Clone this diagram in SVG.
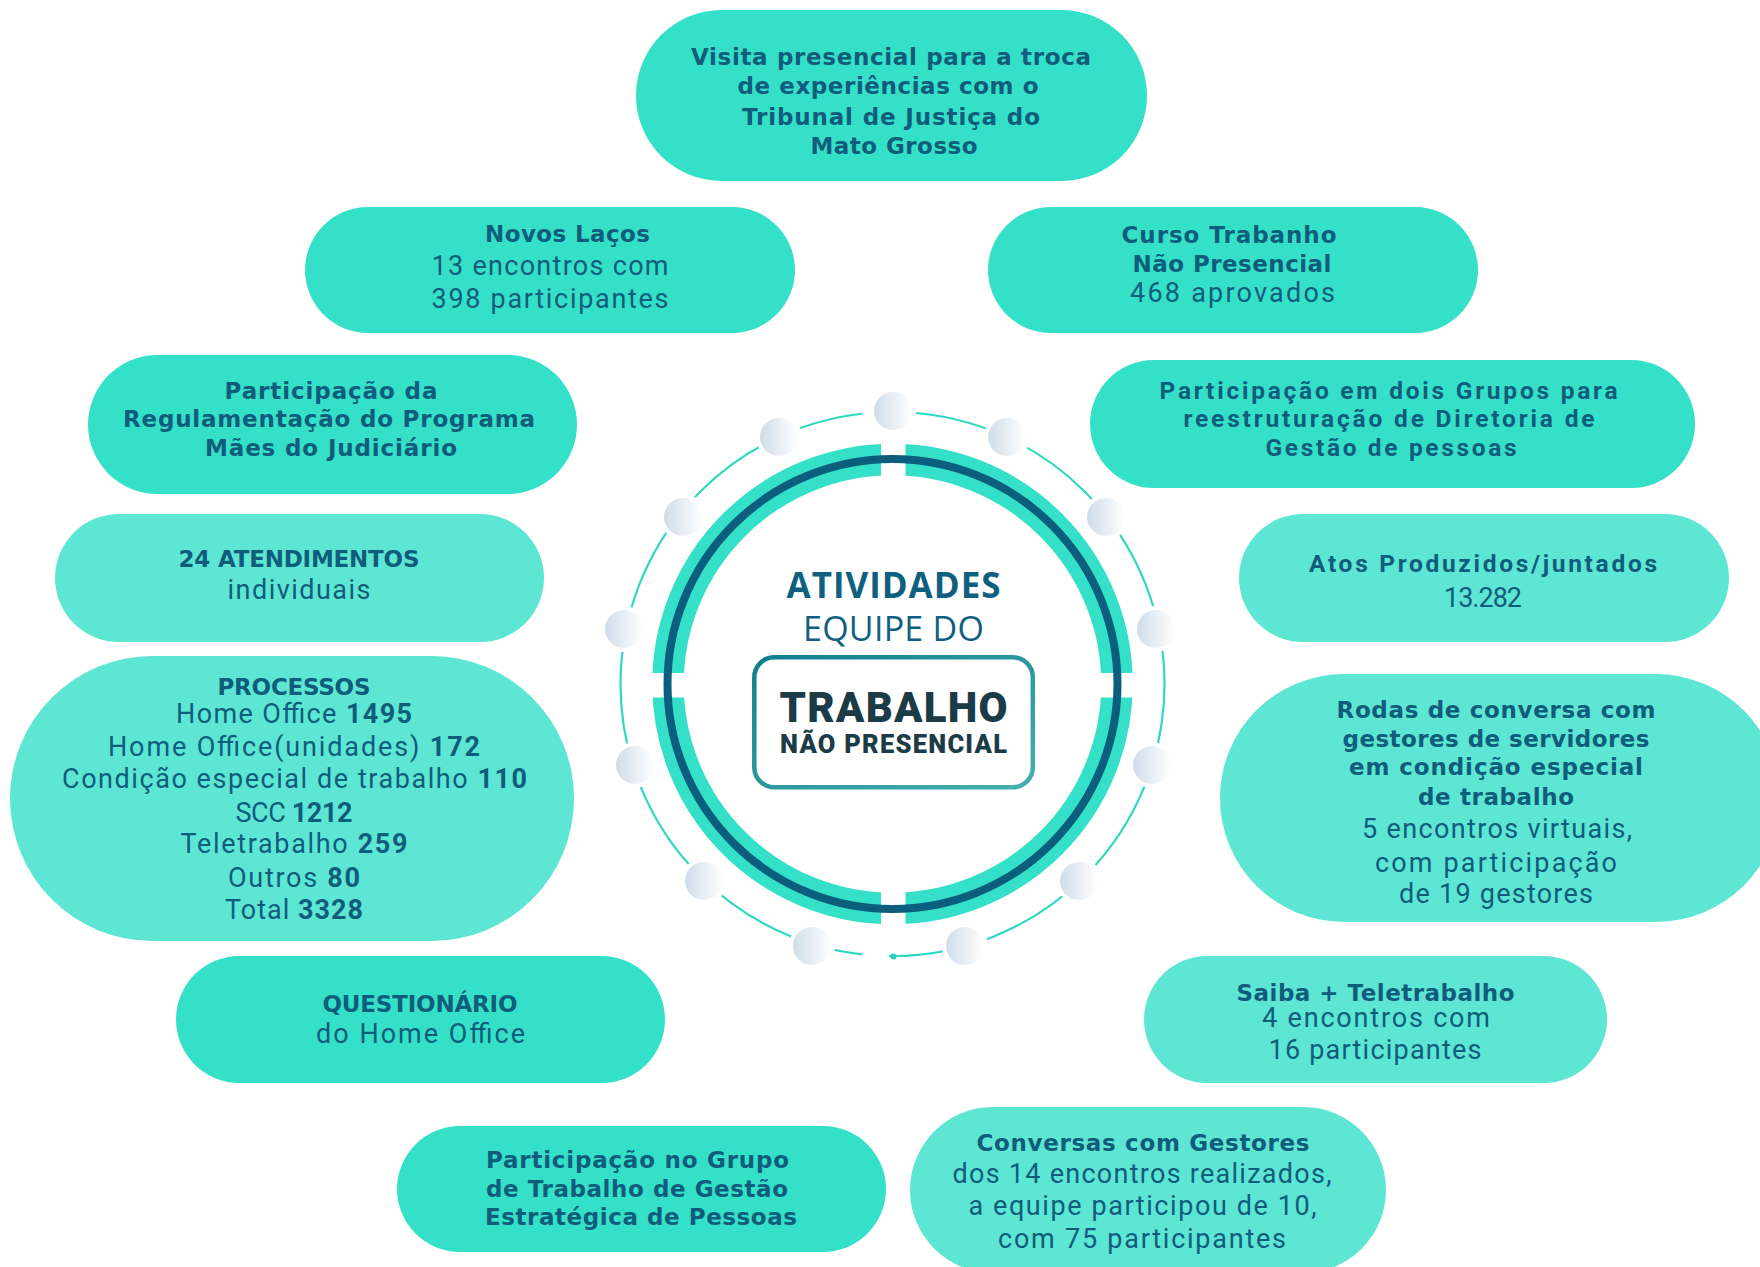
<svg xmlns="http://www.w3.org/2000/svg" width="1760" height="1267" viewBox="0 0 1760 1267">
<style>
.b{fill:#35e0c8}
.l{fill:#5de6d3}
text{fill:#0f5d7a;text-anchor:middle}
.h{font-family:"DejaVu Sans",sans-serif;font-weight:700;font-size:23px}
.r{font-family:Roboto,"Open Sans",sans-serif;font-weight:400;font-size:27px}
.n{font-family:Roboto,"Open Sans",sans-serif;font-weight:700;font-size:24.5px}
.r tspan{font-weight:700}
</style>
<defs>
<linearGradient id="dot" x1="0" y1="0" x2="1" y2="0">
<stop offset="0" stop-color="#cfdde9"/>
<stop offset="1" stop-color="#ffffff"/>
</linearGradient>
<linearGradient id="box" x1="0" y1="0" x2="1" y2="1">
<stop offset="0" stop-color="#0f7f8e"/>
<stop offset="1" stop-color="#45b0ae"/>
</linearGradient>
</defs>

<g id="center">
<circle cx="892.5" cy="684" r="272" fill="none" stroke="#2fd8c0" stroke-width="2.2"/>
<circle cx="892.5" cy="684" r="224.5" fill="none" stroke="#35e0c8" stroke-width="31.5"/>
<rect x="881" y="430" width="24.5" height="510" fill="#fff"/>
<rect x="640" y="673" width="505" height="24.5" fill="#fff"/>
<circle cx="892.5" cy="684" r="225" fill="none" stroke="#0b5e7c" stroke-width="8"/>
<rect x="862" y="403" width="14" height="16" fill="#fff"/>
<rect x="862" y="947" width="27" height="18" fill="#fff"/>
<circle cx="893.5" cy="956.5" r="3" fill="#25d3bb"/>
<g fill="#fff">
<circle cx="893" cy="411" r="23"/><circle cx="779" cy="437" r="23"/><circle cx="1007" cy="437" r="23"/>
<circle cx="683" cy="517" r="23"/><circle cx="1106" cy="517" r="23"/><circle cx="624" cy="629" r="23"/>
<circle cx="1156" cy="629" r="23"/><circle cx="635" cy="765" r="23"/><circle cx="1152" cy="765" r="23"/>
<circle cx="704" cy="881" r="23"/><circle cx="1079" cy="881" r="23"/><circle cx="812" cy="946" r="23"/>
<circle cx="965" cy="946" r="23"/>
</g>
<g fill="url(#dot)">
<circle cx="893" cy="411" r="19"/><circle cx="779" cy="437" r="19"/><circle cx="1007" cy="437" r="19"/>
<circle cx="683" cy="517" r="19"/><circle cx="1106" cy="517" r="19"/><circle cx="624" cy="629" r="19"/>
<circle cx="1156" cy="629" r="19"/><circle cx="635" cy="765" r="19"/><circle cx="1152" cy="765" r="19"/>
<circle cx="704" cy="881" r="19"/><circle cx="1079" cy="881" r="19"/><circle cx="812" cy="946" r="19"/>
<circle cx="965" cy="946" r="19"/>
</g>
<text x="893.5" y="598" font-family="Open Sans, sans-serif" font-weight="700" font-size="35" textLength="214" style="fill:#0f5f80">ATIVIDADES</text>
<text x="893.5" y="641" font-family="Open Sans, sans-serif" font-weight="400" font-size="34" textLength="181" style="fill:#0f5f80">EQUIPE DO</text>
<rect x="754.3" y="657.2" width="278.5" height="130" rx="20" fill="#fff" stroke="url(#box)" stroke-width="4.5"/>
<text x="893.5" y="722" font-family="Roboto, sans-serif" font-weight="900" font-size="42" textLength="228" style="fill:#1b3b47">TRABALHO</text>
<text x="893.5" y="753" font-family="Roboto, sans-serif" font-weight="900" font-size="25.5" textLength="227" style="fill:#1b3b47">NÃO PRESENCIAL</text>
</g>

<g id="connectors"></g>

<g id="n1">
<rect class="b" x="636" y="10" width="511" height="171" rx="85.5"/>
<text class="h" x="891" y="65" font-size="24" textLength="400">Visita presencial para a troca</text>
<text class="h" x="888" y="94" font-size="24" textLength="301">de experiências com o</text>
<text class="h" x="891" y="125" font-size="24" textLength="298">Tribunal de Justiça do</text>
<text class="h" x="894" y="154" font-size="24" textLength="167">Mato Grosso</text>
</g>

<g id="n2">
<rect class="b" x="305" y="207" width="490" height="126" rx="63"/>
<text class="h" x="567.5" y="242" textLength="165">Novos Laços</text>
<text class="r" x="550" y="275" textLength="237">13 encontros com</text>
<text class="r" x="550" y="308" textLength="237">398 participantes</text>
</g>

<g id="n3">
<rect class="b" x="988" y="207" width="490" height="126" rx="63"/>
<text class="h" x="1229" y="243" textLength="215">Curso Trabanho</text>
<text class="h" x="1232" y="272" textLength="199">Não Presencial</text>
<text class="r" x="1232.5" y="302" textLength="205">468 aprovados</text>
</g>

<g id="n4">
<rect class="b" x="88" y="355" width="489" height="139" rx="69.5"/>
<text class="h" x="331" y="399" textLength="213">Participação da</text>
<text class="h" x="329" y="427" textLength="412">Regulamentação do Programa</text>
<text class="h" x="331" y="456" textLength="252">Mães do Judiciário</text>
</g>

<g id="n5">
<rect class="b" x="1090" y="360" width="605" height="128" rx="64"/>
<text class="n" x="1388.5" y="399" textLength="458">Participação em dois Grupos para</text>
<text class="n" x="1389" y="427" textLength="411">reestruturação de Diretoria de</text>
<text class="n" x="1391" y="456" textLength="251">Gestão de pessoas</text>
</g>

<g id="n6">
<rect class="l" x="55" y="514" width="489" height="128" rx="64"/>
<text class="h" x="299" y="567" textLength="241">24 ATENDIMENTOS</text>
<text class="r" x="299" y="599" textLength="143">individuais</text>
</g>

<g id="n7">
<rect class="l" x="1239" y="514" width="490" height="128" rx="64"/>
<text class="n" x="1483" y="571.5" textLength="348">Atos Produzidos/juntados</text>
<text class="r" x="1483" y="607" textLength="78">13.282</text>
</g>

<g id="n8">
<rect class="l" x="10" y="656" width="564" height="285" rx="142.5"/>
<text class="h" x="294" y="695" textLength="153">PROCESSOS</text>
<text class="r" x="294" y="723" textLength="236">Home Office <tspan>1495</tspan></text>
<text class="r" x="294" y="756" textLength="372">Home Office(unidades) <tspan>172</tspan></text>
<text class="r" x="294.5" y="788" textLength="465">Condição especial de trabalho <tspan>110</tspan></text>
<text class="r" x="294" y="822" textLength="117">SCC <tspan>1212</tspan></text>
<text class="r" x="294" y="853" textLength="227">Teletrabalho <tspan>259</tspan></text>
<text class="r" x="294" y="887" textLength="132">Outros <tspan>80</tspan></text>
<text class="r" x="294" y="919" textLength="138">Total <tspan>3328</tspan></text>
</g>

<g id="n9">
<rect class="l" x="1220" y="674" width="560" height="248" rx="124"/>
<text class="h" x="1496" y="718" textLength="319">Rodas de conversa com</text>
<text class="h" x="1496" y="747" textLength="307">gestores de servidores</text>
<text class="h" x="1496" y="775" textLength="294">em condição especial</text>
<text class="h" x="1496" y="805" textLength="156">de trabalho</text>
<text class="r" x="1497" y="838" textLength="270">5 encontros virtuais,</text>
<text class="r" x="1496" y="872" textLength="242">com participação</text>
<text class="r" x="1496" y="903" textLength="194">de 19 gestores</text>
</g>

<g id="n10">
<rect class="b" x="176" y="956" width="489" height="127" rx="63.5"/>
<text class="h" x="420" y="1012" textLength="195">QUESTIONÁRIO</text>
<text class="r" x="420.5" y="1043" textLength="209">do Home Office</text>
</g>

<g id="n11">
<rect class="l" x="1144" y="956" width="463" height="127" rx="63.5"/>
<text class="h" x="1375.5" y="1000.5" textLength="278">Saiba + Teletrabalho</text>
<text class="r" x="1376" y="1027" textLength="228">4 encontros com</text>
<text class="r" x="1375" y="1059" textLength="213">16 participantes</text>
</g>

<g id="n12">
<rect class="b" x="397" y="1126" width="489" height="126" rx="63"/>
<text class="h" x="637.5" y="1168" textLength="303">Participação no Grupo</text>
<text class="h" x="637" y="1197" textLength="302">de Trabalho de Gestão</text>
<text class="h" x="641" y="1225" textLength="312">Estratégica de Pessoas</text>
</g>

<g id="n13">
<rect class="l" x="910" y="1107" width="476" height="166" rx="83"/>
<text class="h" x="1143" y="1150.5" textLength="333">Conversas com Gestores</text>
<text class="r" x="1142" y="1182.5" textLength="379">dos 14 encontros realizados,</text>
<text class="r" x="1142.5" y="1215" textLength="348">a equipe participou de 10,</text>
<text class="r" x="1142" y="1248" textLength="288">com 75 participantes</text>
</g>
</svg>
